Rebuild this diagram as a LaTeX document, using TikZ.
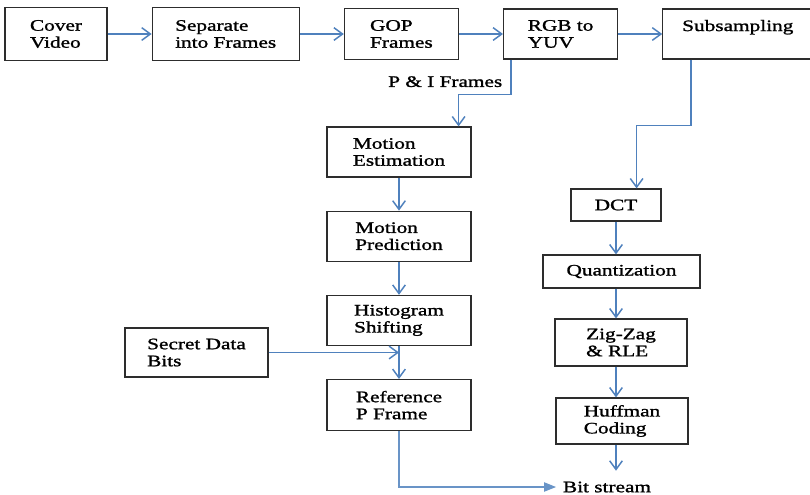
\documentclass[tikz,border=0pt]{standalone}
\usepackage{fontspec}
\newfontfamily\boxfont{Liberation Serif}[FakeStretch=1.33, FakeBold=1.3]
\usetikzlibrary{arrows.meta,positioning}
\definecolor{flowblue}{RGB}{79,129,189}
\definecolor{boxgrey}{RGB}{45,45,45}
\tikzset{
  >={Straight Barb[length=6.5pt,width=9.5pt]},
  flow/.style={->, line width=1.1pt, draw=flowblue},
  flowout/.style={-{Triangle[length=9pt,width=7pt]}, line width=0.8pt, draw=flowblue!85},
  box/.style={
    draw=boxgrey,
    line width=0.9pt,
    fill=white,
    align=left,
    inner sep=3pt,
    font=\boxfont\fontsize{12}{12.75}\selectfont
  },
  lbl/.style={font=\boxfont\fontsize{12}{12.75}\selectfont, inner sep=2pt}
}

\begin{document}
\begin{tikzpicture}[x=0.75pt, y=-0.75pt, node distance=33pt]
  \fill[white] (0,0) rectangle (810,494);
  \useasboundingbox (0,0) rectangle (810,494);

  % top row
  \node[box, minimum width=76.5pt, minimum height=39.75pt] (cover) at (56,34) {Cover\\Video};
  \node[box, right=of cover, minimum width=110.25pt, minimum height=39.75pt] (frames) {Separate\\into Frames};
  \node[box, right=of frames, minimum width=85.5pt, minimum height=38.25pt] (gop) {GOP\\Frames};
  \node[box, right=of gop, minimum width=85.5pt, minimum height=37.5pt] (rgb) {RGB to\\YUV};
  \node[box, right=of rgb, minimum width=112.5pt, minimum height=37.5pt] (sub) {Subsampling\\\mbox{}};

  % left column
  \node[box, minimum width=108pt, minimum height=37.5pt] (estim) at (399,152) {Motion\\Estimation};
  \node[box, below=24.75pt of estim, minimum width=108pt, minimum height=37.5pt] (pred) {Motion\\Prediction};
  \node[box, below=24.75pt of pred, minimum width=108pt, minimum height=37.5pt] (hist) {Histogram\\Shifting};
  \node[box, below=24.75pt of hist, minimum width=108pt, minimum height=38.25pt] (refp) {Reference\\P Frame};
  \node[box, minimum width=107.25pt, minimum height=36.75pt] (secret) at (196.5,352.5) {Secret Data\\Bits};

  % right column
  \node[box, minimum width=67.5pt, minimum height=24pt] (dct) at (616,205) {DCT};
  \node[box, minimum width=117.75pt, minimum height=24.75pt] (quant) at (621.5,271.5) {Quantization};
  \node[box, minimum width=99pt, minimum height=35.25pt] (zigzag) at (621,342.5) {Zig-Zag\\\& RLE};
  \node[box, minimum width=99pt, minimum height=34.5pt] (huff) at (622,421) {Huffman\\Coding};
  \node[lbl] (bits) at (607,487) {Bit stream};

  \draw[flow] (cover) -- (frames);
  \draw[flow] (frames) -- (gop);
  \draw[flow] (gop) -- (rgb);
  \draw[flow] (rgb) -- (sub);

  \draw[flow] ([xshift=6pt]rgb.south west) -- node[lbl, left=4pt, pos=0.63] {P \& I Frames} ++(0,35)
    -| ([xshift=-9.75pt]estim.north east);
  \draw[flow] ([xshift=21.75pt]sub.south west) -- ++(0,66) -| ([xshift=-18.75pt]dct.north east);

  \draw[flow] (estim) -- (pred);
  \draw[flow] (pred) -- (hist);
  \draw[flow] (hist) -- (refp);
  \draw[flow] (secret.east) -- (secret.east -| hist.south);

  \draw[flow] (dct) -- (dct |- quant.north);
  \draw[flow] (dct |- quant.south) -- (dct |- zigzag.north);
  \draw[flow] (dct |- zigzag.south) -- (dct |- huff.north);
  \draw[flow, shorten >=6pt] (dct |- huff.south) -- (dct |- bits.north);

  \draw[flowout, shorten >=3pt] (refp.south) |- (bits.west);
\end{tikzpicture}
\end{document}
